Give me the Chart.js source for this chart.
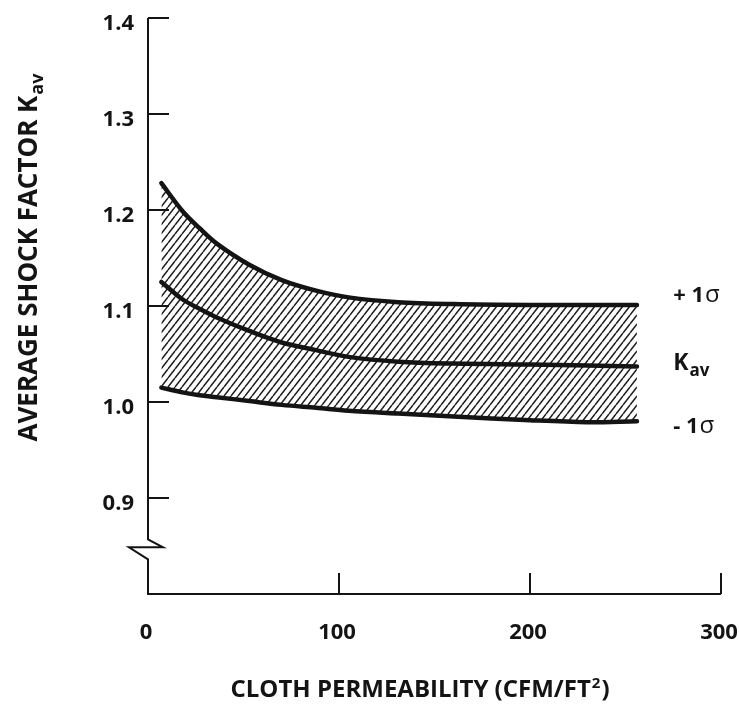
<!DOCTYPE html>
<html>
<head>
<meta charset="utf-8">
<script src="https://cdn.jsdelivr.net/npm/chart.js@4.4.0/dist/chart.umd.min.js"></script>
<style>
    html, body { margin: 0; padding: 0; background: #fff; }
</style>
</head>
<body>
<canvas id="chart" width="739" height="711"></canvas>
<script>
// Cloth permeability (CFM/FT2)
const permeability = [7, 18, 27, 36, 53, 70, 88, 105, 131, 160, 200, 230, 256];

// Average shock factor: +1 sigma, mean, -1 sigma
const plusSigma  = [1.228, 1.199, 1.181, 1.165, 1.143, 1.127, 1.116, 1.109, 1.104, 1.102, 1.101, 1.101, 1.101];
const kav        = [1.125, 1.107, 1.097, 1.088, 1.074, 1.062, 1.054, 1.047, 1.042, 1.040, 1.039, 1.038, 1.037];
const minusSigma = [1.015, 1.010, 1.007, 1.005, 1.001, 0.997, 0.994, 0.991, 0.988, 0.985, 0.981, 0.979, 0.980];

// Axis ticks
const xTicks = [0, 100, 200, 300];
const yTicks = [0.9, 1.0, 1.1, 1.2, 1.3, 1.4];

const INK = "#141414";
const FONT = "'Open Sans', 'DejaVu Sans', sans-serif";

function points(ys) {
    return permeability.map((x, i) => ({x: x, y: ys[i]}));
}

// diagonal hatching for the band between the sigma curves
function hatchPattern() {
    let c = document.createElement("canvas");
    c.width = 7;
    c.height = 9;
    let g = c.getContext("2d");
    g.strokeStyle = "#1e1e1e";
    g.lineWidth = 1.5;
    g.beginPath();
    for (let k = -1; k <= 1; k++) {
        g.moveTo(k * 7, 9);
        g.lineTo(k * 7 + 7, 0);
    }
    g.stroke();
    return g.createPattern(c, "repeat");
}

function curve(data, extra) {
    return Object.assign({
        data: points(data),
        borderColor: INK,
        borderWidth: 4.5,
        borderCapStyle: "round",
        pointRadius: 0,
        tension: 0.35,
        fill: false,
    }, extra || {});
}

// axis lines with the break, inward ticks, and the texts
const frame = {
    id: "frame",
    afterDatasetsDraw(chart) {
        const ctx = chart.ctx;
        const a = chart.chartArea;
        const x = chart.scales.x;
        const y = chart.scales.y;
        const L = a.left, B = a.bottom;

        ctx.save();
        ctx.strokeStyle = INK;
        ctx.lineWidth = 2;

        // y axis with the break near the bottom
        let bt = y.getPixelForValue(0.857);
        ctx.beginPath();
        ctx.moveTo(L, a.top);
        ctx.lineTo(L, bt);
        ctx.lineTo(L + 15, bt + 8);
        ctx.lineTo(L - 19, bt + 8);
        ctx.lineTo(L, bt + 20);
        ctx.lineTo(L, B);
        ctx.lineTo(a.right, B);
        ctx.stroke();

        // ticks point into the plot
        ctx.beginPath();
        yTicks.forEach(v => {
            let py = y.getPixelForValue(v);
            ctx.moveTo(L, py);
            ctx.lineTo(L + 21, py);
        });
        xTicks.slice(1).forEach(v => {
            let px = x.getPixelForValue(v);
            ctx.moveTo(px, B);
            ctx.lineTo(px, B - 21);
        });
        ctx.stroke();

        ctx.fillStyle = INK;
        ctx.textBaseline = "middle";
        ctx.textAlign = "left";

        // curve labels on the right
        let lx = x.getPixelForValue(275);
        let sigma = (sign, v) => {
            let py = y.getPixelForValue(v);
            ctx.font = "bold 22px " + FONT;
            let t = sign + " 1";
            ctx.fillText(t, lx, py);
            let w = ctx.measureText(t).width;
            ctx.font = "24px " + FONT;
            ctx.fillText("σ", lx + w + 1, py - 1);
        };
        sigma("+", 1.1105);
        sigma("-", 0.974);
        let ky = y.getPixelForValue(1.040);
        ctx.font = "bold 23px " + FONT;
        ctx.fillText("K", lx, ky);
        let kw = ctx.measureText("K").width;
        ctx.font = "bold 17px " + FONT;
        ctx.fillText("av", lx + kw + 1, ky + 8);

        // x axis title
        let t1 = "CLOTH PERMEABILITY (CFM/FT";
        ctx.font = "bold 24px " + FONT;
        let w1 = ctx.measureText(t1).width;
        let w3 = ctx.measureText(")").width;
        ctx.font = "bold 15px " + FONT;
        let w2 = ctx.measureText("2").width;
        let tx = 420 - (w1 + w2 + w3 + 2) / 2, ty = B + 96;
        ctx.font = "bold 24px " + FONT;
        ctx.fillText(t1, tx, ty);
        ctx.fillText(")", tx + w1 + w2 + 2, ty);
        ctx.font = "bold 15px " + FONT;
        ctx.fillText("2", tx + w1 + 1, ty - 6);

        // y axis title, rotated
        ctx.translate(30, 258);
        ctx.rotate(-Math.PI / 2);
        let s1 = "AVERAGE SHOCK FACTOR K";
        ctx.font = "bold 26px " + FONT;
        let sw = ctx.measureText(s1).width;
        ctx.font = "bold 18px " + FONT;
        let sw2 = ctx.measureText("av").width;
        let sx = -(sw + sw2) / 2;
        ctx.font = "bold 26px " + FONT;
        ctx.fillText(s1, sx, 0);
        ctx.font = "bold 18px " + FONT;
        ctx.fillText("av", sx + sw + 1, 8);
        ctx.restore();
    }
};

new Chart(document.getElementById("chart"), {
    type: "line",
    data: {
        datasets: [
            curve(plusSigma, {fill: 2, backgroundColor: hatchPattern()}),
            curve(kav),
            curve(minusSigma),
        ]
    },
    options: {
        responsive: false,
        animation: false,
        layout: {padding: {top: 18, right: 18, left: 0, bottom: 0}},
        plugins: {
            legend: {display: false},
            tooltip: {enabled: false},
            filler: {drawTime: "beforeDatasetsDraw"},
        },
        scales: {
            x: {
                type: "linear",
                min: 0,
                max: 300,
                afterBuildTicks: s => { s.ticks = xTicks.map(v => ({value: v})); },
                afterFit: s => { s.height = 117; s.paddingLeft = 0; s.paddingRight = 0; },
                grid: {display: false, drawTicks: false},
                border: {display: false},
                ticks: {
                    color: INK,
                    padding: 26,
                    labelOffset: -2,
                    font: {family: FONT, weight: "bold", size: 22},
                    callback: v => String(v),
                },
            },
            y: {
                type: "linear",
                min: 0.8,
                max: 1.4,
                afterBuildTicks: s => { s.ticks = yTicks.map(v => ({value: v})); },
                afterFit: s => { s.width = 148; s.paddingTop = 0; s.paddingBottom = 0; },
                grid: {display: false, drawTicks: false},
                border: {display: false},
                ticks: {
                    color: INK,
                    padding: 14,
                    labelOffset: 6,
                    font: {family: FONT, weight: "bold", size: 22},
                    callback: v => v.toFixed(1),
                },
            },
        },
    },
    plugins: [frame],
});
</script>
</body>
</html>
